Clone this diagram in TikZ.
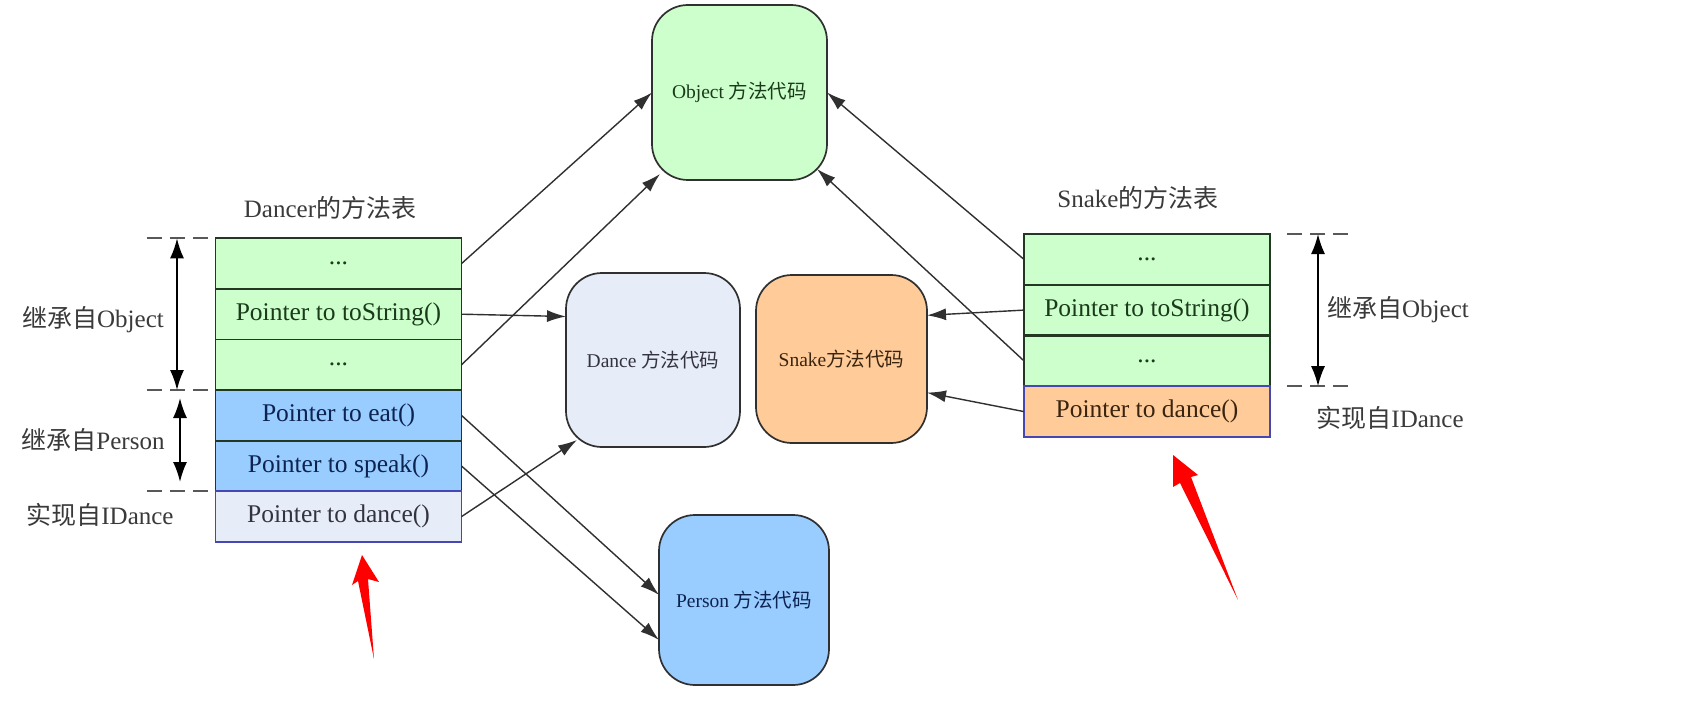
\documentclass[tikz,border=0pt]{standalone}
\usepackage{fontspec}
\setmainfont{Liberation Serif}
\newfontfamily\cjk{Noto Sans CJK SC}
\usetikzlibrary{arrows.meta,calc}

\definecolor{rowgreen}{HTML}{CCFFCC}
\definecolor{rowblue}{HTML}{99CCFF}
\definecolor{rowlav}{HTML}{E6ECF8}
\definecolor{roworange}{HTML}{FFCC99}
\definecolor{greenline}{HTML}{233823}
\definecolor{blueline}{HTML}{4646B4}
\definecolor{greentext}{HTML}{1A3A1A}
\definecolor{bluetext}{HTML}{0D2350}
\definecolor{lavtext}{HTML}{33333F}
\definecolor{browntext}{HTML}{3A2410}
\definecolor{labeltext}{HTML}{3A3A3A}
\definecolor{wire}{HTML}{303030}
\definecolor{markred}{HTML}{FF0000}

\begin{document}
\begin{tikzpicture}[x=1pt,y=-1pt,
  slot/.style={draw=greenline, line width=1.9pt, minimum width=246pt,
    minimum height=50.6pt, inner sep=0pt, outer sep=0pt,
    font=\fontsize{25.5}{30}\selectfont},
  gslot/.style={slot, fill=rowgreen, text=greentext},
  bslot/.style={slot, fill=rowblue, text=bluetext},
  codebox/.style={draw=wire, line width=1.7pt, rounded corners=36pt,
    inner sep=0pt, outer sep=0pt, font=\fontsize{19.5}{23}\selectfont},
  caption/.style={text=labeltext, font=\fontsize{25}{29}\selectfont, inner sep=0pt},
  ptr/.style={draw=wire, line width=1.4pt, -{Latex[length=19pt,width=12pt]}},
  dim/.style={draw=black, line width=1.9pt, {Latex[length=20pt,width=14pt]}-{Latex[length=20pt,width=14pt]}},
  sep/.style={draw=labeltext!85, line width=2.2pt, dash pattern=on 15pt off 8pt}
]
\useasboundingbox (0,0) rectangle (1702,722);
\fill[white] (0,0) rectangle (1702,722);

% ---------- code blocks ----------
\node[codebox, fill=rowgreen, text=greentext, minimum width=175pt, minimum height=175pt]
  (obj) at (739.5,92.5) {Object {\cjk 方法代码}};
\node[codebox, fill=rowlav, text=lavtext, minimum width=174pt, minimum height=174pt]
  (dnc) at (653,360) {Dance {\cjk 方法代码}};
\node[codebox, fill=roworange, text=browntext, minimum width=171pt, minimum height=168pt]
  (snk) at (841.5,359) {Snake{\cjk 方法代码}};
\node[codebox, fill=rowblue, text=bluetext, minimum width=170pt, minimum height=170pt]
  (per) at (744,600) {Person {\cjk 方法代码}};

% ---------- Dancer method table ----------
\node[caption] (dtitle) at (330,208) {Dancer{\cjk 的方法表}};
\node[gslot] (d1) at (338.5,263.6) {...};
\node[gslot] (d2) at (338.5,314.2) {Pointer to toString()};
\node[gslot] (d3) at (338.5,364.8) {...};
\node[bslot] (d4) at (338.5,415.4) {Pointer to eat()};
\node[bslot] (d5) at (338.5,466.0) {Pointer to speak()};
\node[slot, fill=rowlav, text=lavtext, draw=blueline] (d6) at (338.5,516.6) {Pointer to dance()};

% ---------- Snake method table ----------
\node[caption] (stitle) at (1138,198) {Snake{\cjk 的方法表}};
\node[gslot] (s1) at (1147,259.4) {...};
\node[gslot] (s2) at (1147,310.1) {Pointer to toString()};
\node[gslot] (s3) at (1147,360.9) {...};
\node[slot, fill=roworange, text=browntext, draw=blueline] (s4) at (1147,411.6) {Pointer to dance()};

% ---------- group markers, left ----------
\coordinate (la) at (147,238.3);  \coordinate (lb) at (210,238.3);
\coordinate (lc) at (147,390.1);  \coordinate (ld) at (210,390.1);
\coordinate (le) at (147,491.3);  \coordinate (lf) at (210,491.3);
\draw[sep] (la) -- (lb);
\draw[sep] (lc) -- (ld);
\draw[sep] (le) -- (lf);
\coordinate (lobjtop) at (177,238.3);
\coordinate (lobjbot) at (177,390.1);
\coordinate (lpertop) at (180,398);
\coordinate (lperbot) at (180,482);
\draw[dim] (lobjtop) -- (lobjbot);
\draw[dim] (lpertop) -- (lperbot);
\node[caption] (lobj) at (93,320) {{\cjk 继承自}Object};
\node[caption] (lper) at (93,440) {{\cjk 继承自}Person};
\node[caption] (lidc) at (100,515) {{\cjk 实现自}IDance};

% ---------- group markers, right ----------
\coordinate (ra) at (1287,234);   \coordinate (rb) at (1350,234);
\coordinate (rc) at (1287,386.2); \coordinate (rd) at (1350,386.2);
\draw[sep] (ra) -- (rb);
\draw[sep] (rc) -- (rd);
\coordinate (robjtop) at (1318,234);
\coordinate (robjbot) at (1318,386.2);
\draw[dim] (robjtop) -- (robjbot);
\node[caption] (robj) at (1398,310) {{\cjk 继承自}Object};
\node[caption] (ridc) at (1390,418) {{\cjk 实现自}IDance};

% ---------- pointers from the Dancer table ----------
\draw[ptr] (d1.east) -- (obj.west);
\draw[ptr] (d3.east) -- ([shift={(8pt,6pt)}]obj.south west);
\draw[ptr] (d2.east) -- ($(dnc.north west)!0.25!(dnc.south west)$);
\draw[ptr] (d4.east) -- ($(per.north west)!0.47!(per.south west)$);
\draw[ptr] (d5.east) -- ($(per.north west)!0.735!(per.south west)$);
\draw[ptr] (d6.east) -- ([shift={(11pt,7pt)}]dnc.south west);

% ---------- pointers from the Snake table ----------
\draw[ptr] (s1.west) -- (obj.east);
\draw[ptr] (s3.west) -- ([shift={(-10pt,11pt)}]obj.south east);
\draw[ptr] (s2.west) -- ($(snk.north east)!0.24!(snk.south east)$);
\draw[ptr] (s4.west) -- ($(snk.north east)!0.70!(snk.south east)$);

% ---------- red highlight arrows ----------
\fill[markred] (362,555) -- (379,582) -- (368,579) -- (374,659) -- (358,581) -- (352,585) -- cycle;
\fill[markred] (1173,455) -- (1198,475) -- (1191,477) -- (1238,600) -- (1180,483) -- (1173,487) -- cycle;
\end{tikzpicture}
\end{document}
